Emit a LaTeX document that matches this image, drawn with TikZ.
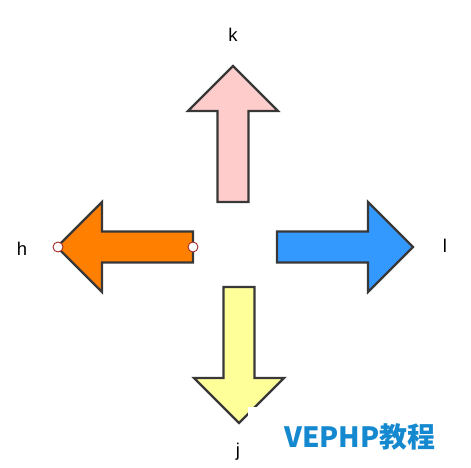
\documentclass[tikz,border=0pt]{standalone}
\usepackage{fontspec}
\setmainfont{Liberation Sans}
\newfontfamily\cjk{Noto Sans CJK SC}
\usepackage{xcolor}
\usepackage{tikz}

\definecolor{rimgray}{HTML}{383838}
\definecolor{pinkk}{HTML}{FFCCCC}
\definecolor{orangeh}{HTML}{FF7F00}
\definecolor{bluel}{HTML}{3399FF}
\definecolor{yellowj}{HTML}{FFFF99}
\definecolor{markred}{HTML}{A52A2A}
\definecolor{markblue}{HTML}{1589D0}

\begin{document}
\begin{tikzpicture}[x=1bp,y=-1bp,font=\fontsize{18.5}{20}\selectfont,
    fatarrow/.style={draw=rimgray,line width=2.2bp,fill=#1},
    endmark/.style={circle,draw=markred,fill=white,line width=0.9bp,
      minimum size=10bp,inner sep=0pt}]
  \useasboundingbox (0,0) rectangle (471,468);
  % tail point / direction / fill
  \foreach \tx/\ty/\ang/\col in {233/202/90/pinkk,193/247/180/orangeh,
                                 277/247/0/bluel,239/287/-90/yellowj}{
    \draw[fatarrow=\col,shift={(\tx,\ty)},rotate=\ang]
      (0,-15.5) -- (91,-15.5) -- (91,-45) -- (136,0) -- (91,45)
      -- (91,15.5) -- (0,15.5) -- cycle;}
  \node[endmark] (h0) at (58,247) {};
  \node[endmark] (h1) at (193,247) {};
  \node[anchor=base] (lk) at (233,42) {k};
  \node[anchor=base] (lh) at (22,255) {h};
  \node[anchor=base] (ll) at (445,252) {l};
  \node[anchor=base] (lj) at (238,456) {j};
  \fill[white] (248,407) rectangle (462,466);
  \node[anchor=base west,inner sep=0pt,text=markblue,
    font=\cjk\bfseries\fontsize{28}{30}\selectfont] (wm) at (284,447) {VEPHP教程};
\end{tikzpicture}
\end{document}
